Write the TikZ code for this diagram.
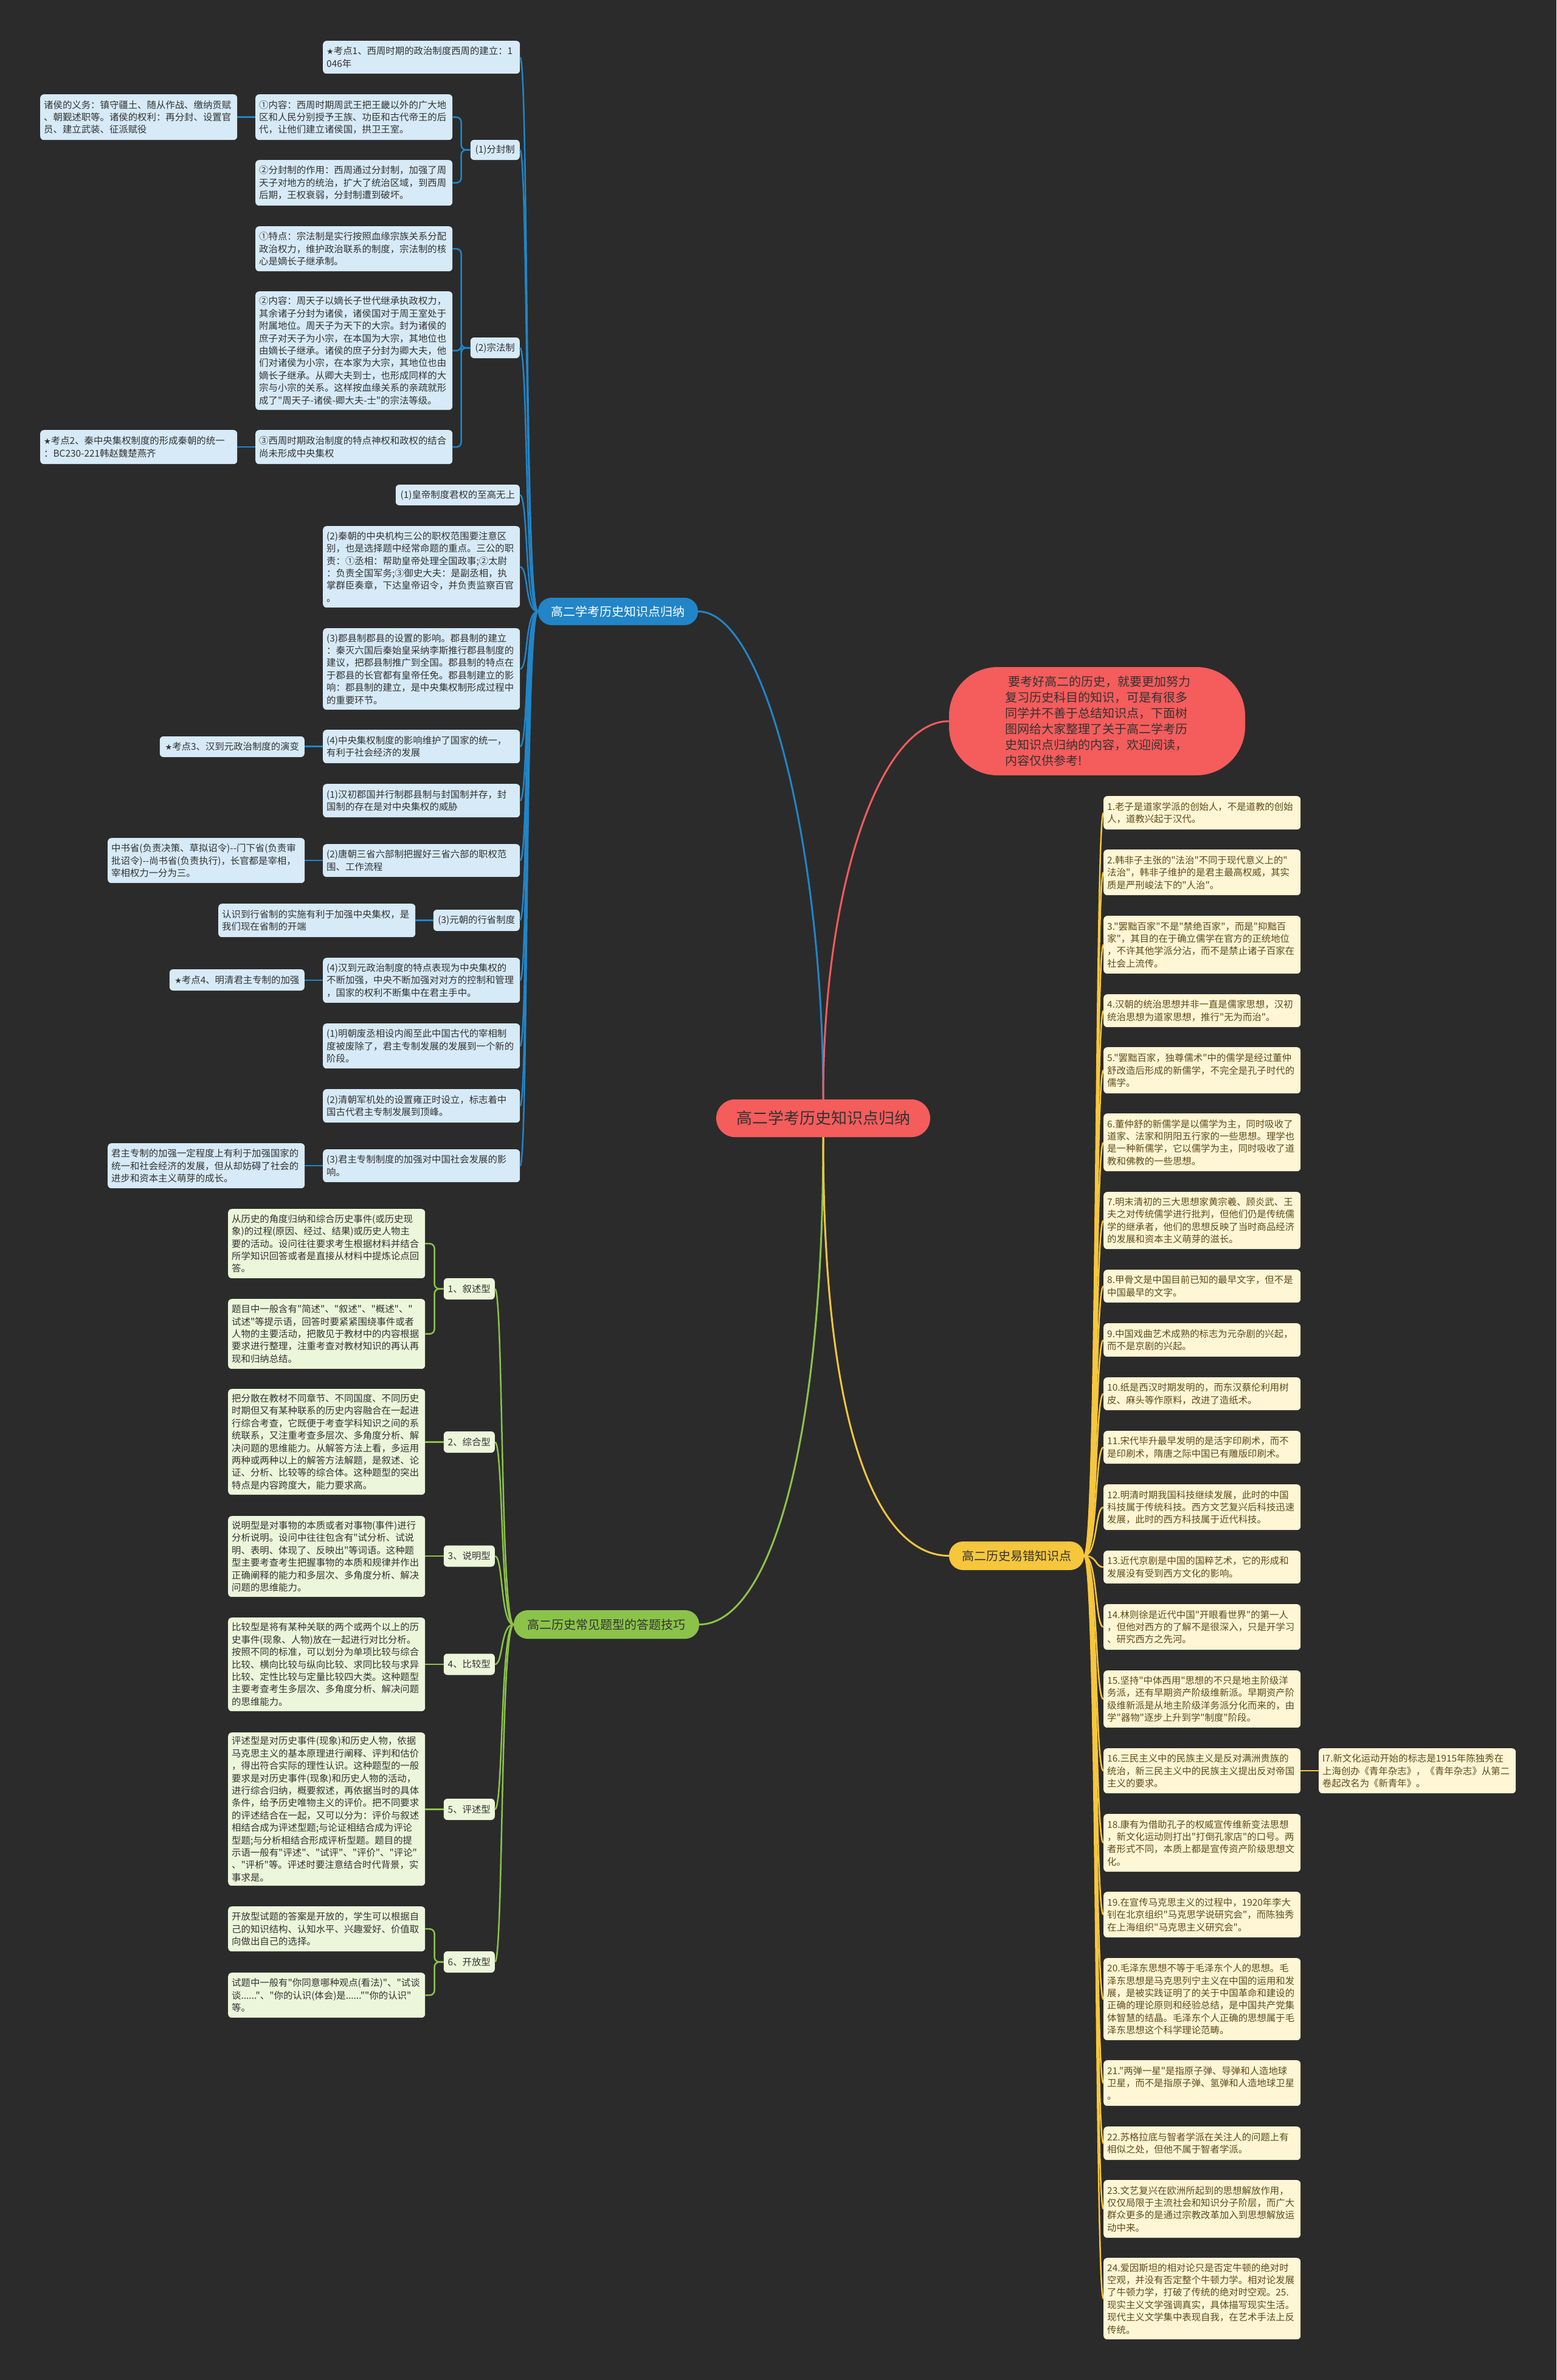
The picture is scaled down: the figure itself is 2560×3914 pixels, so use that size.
\documentclass[tikz,border=0pt]{standalone}
\usepackage{fontspec}
\setmainfont{Noto Sans CJK SC}[Ligatures=TeXOff]
\newfontfamily\symf{DejaVu Sans}[Scale=0.85]
\definecolor{bgc}{RGB}{43,43,43}
\definecolor{bluec}{RGB}{33,133,200}
\definecolor{bluel}{RGB}{214,234,247}
\definecolor{greenc}{RGB}{139,195,74}
\definecolor{greenl}{RGB}{236,246,218}
\definecolor{yelc}{RGB}{246,198,60}
\definecolor{yell}{RGB}{254,246,213}
\definecolor{redc}{RGB}{245,92,92}
\definecolor{txt}{RGB}{51,51,51}
\definecolor{ytxt}{RGB}{95,75,25}
\newcommand\fsz{\fontsize{15.4}{20.4}\selectfont}
\newcommand\xstar{{\symf ★}}
\begin{document}
\begin{tikzpicture}[x=1pt,y=-1pt,
  base/.style={rounded corners=6pt, inner xsep=6pt, inner ysep=4pt, font=\fsz, align=left},
  wbox/.style={base, anchor=north west, text width=312pt},
  lbox/.style={base, anchor=east, align=center},
  bwide/.style={wbox, fill=bluel, text=txt},
  blab/.style={lbox, fill=bluel, text=txt},
  gwide/.style={wbox, fill=greenl, text=txt},
  glab/.style={lbox, fill=greenl, text=txt, minimum width=84pt, minimum height=35pt},
  ywide/.style={wbox, fill=yell, text=ytxt},
  bcon/.style={draw=bluec, line width=2.5pt},
  gcon/.style={draw=greenc, line width=2.5pt},
  ycon/.style={draw=yelc, line width=2.5pt},
  mainnode/.style={inner sep=0pt, font=\fontsize{20}{26}\selectfont, text=txt}
]
\fill[bgc] (0,0) rectangle (2560,3914);
\useasboundingbox (0,0) rectangle (2560,3914);

% ---------- centre ----------
\node[mainnode, fill=redc, rounded corners=31pt, minimum width=352pt, minimum height=62pt,
      font=\fontsize{26}{30}\selectfont] (root) at (1354,1839) {高二学考历史知识点归纳};
\node[mainnode, fill=bluec, text=white, rounded corners=22pt, minimum width=263pt, minimum height=45pt] (bl) at (1016.5,1005.5) {高二学考历史知识点归纳};
\node[mainnode, fill=redc, rounded corners=80pt, minimum width=487pt, minimum height=178pt,
      text width=302pt, align=left] (rd) at (1804.5,1186)
  {\hspace*{5pt}要考好高二的历史，就要更加努力\\复习历史科目的知识，可是有很多\\同学并不善于总结知识点，下面树\\图网给大家整理了关于高二学考历\\史知识点归纳的内容，欢迎阅读，\\内容仅供参考!};
\node[mainnode, fill=greenc, rounded corners=23pt, minimum width=305pt, minimum height=47pt] (gr) at (997.5,2671.5) {高二历史常见题型的答题技巧};
\node[mainnode, fill=yelc, rounded corners=23pt, minimum width=222pt, minimum height=47pt] (ye) at (1672,2558.5) {高二历史易错知识点};

\draw[draw=bluec, line width=3pt] (root.north) .. controls (1354,1400) and (1260,1005.5) .. (bl.east);
\draw[draw=redc, line width=3pt] (root.north) .. controls (1354,1450) and (1450,1186) .. (rd.west);
\draw[draw=greenc, line width=3pt] (root.south) .. controls (1354,2400) and (1260,2671.5) .. (gr.east);
\draw[draw=yelc, line width=3pt] (root.south) .. controls (1354,2400) and (1460,2558.5) .. (ye.west);

% ---------- blue branch ----------
\node[bwide, minimum height=54pt] (k1) at (531,67) {\xstar 考点1、西周时期的政治制度西周的建立：1\\046年};
\node[bwide, minimum height=75pt] (zh) at (66,155) {诸侯的义务：镇守疆土、随从作战、缴纳贡赋\\、朝觐述职等。诸侯的权利：再分封、设置官\\员、建立武装、征派赋役};
\node[bwide, minimum height=75pt] (nr1) at (420,155) {①内容：西周时期周武王把王畿以外的广大地\\区和人民分别授予王族、功臣和古代帝王的后\\代，让他们建立诸侯国，拱卫王室。};
\node[blab, minimum width=81pt, minimum height=33pt] (ffz) at (855,246.5) {(1)分封制};
\node[bwide, minimum height=75pt] (zy) at (420,263) {②分封制的作用：西周通过分封制，加强了周\\天子对地方的统治，扩大了统治区域，到西周\\后期，王权衰弱，分封制遭到破坏。};
\node[bwide, minimum height=74pt] (td) at (420,372) {①特点：宗法制是实行按照血缘宗族关系分配\\政治权力，维护政治联系的制度，宗法制的核\\心是嫡长子继承制。};
\node[bwide, minimum height=195pt] (nr2) at (420,479) {②内容：周天子以嫡长子世代继承执政权力，\\其余诸子分封为诸侯，诸侯国对于周王室处于\\附属地位。周天子为天下的大宗。封为诸侯的\\庶子对天子为小宗，在本国为大宗，其地位也\\由嫡长子继承。诸侯的庶子分封为卿大夫，他\\们对诸侯为小宗，在本家为大宗，其地位也由\\嫡长子继承。从卿大夫到士，也形成同样的大\\宗与小宗的关系。这样按血缘关系的亲疏就形\\成了"周天子-诸侯-卿大夫-士"的宗法等级。};
\node[blab, minimum width=81pt, minimum height=34pt] (zfz) at (855,572) {(2)宗法制};
\node[bwide, minimum height=56pt] (k2) at (66,707) {\xstar 考点2、秦中央集权制度的形成秦朝的统一\\：BC230-221韩赵魏楚燕齐};
\node[bwide, minimum height=56pt] (xz) at (420,707) {③西周时期政治制度的特点神权和政权的结合\\尚未形成中央集权};
\node[blab, minimum width=204pt, minimum height=34pt] (hd) at (855,814) {(1)皇帝制度君权的至高无上};
\node[bwide, minimum height=134pt] (qc) at (531,865) {(2)秦朝的中央机构三公的职权范围要注意区\\别，也是选择题中经常命题的重点。三公的职\\责：①丞相：帮助皇帝处理全国政事;②太尉\\：负责全国军务;③御史大夫：是副丞相，执\\掌群臣奏章，下达皇帝诏令，并负责监察百官\\。};
\node[bwide, minimum height=134pt] (jx) at (531,1033) {(3)郡县制郡县的设置的影响。郡县制的建立\\：秦灭六国后秦始皇采纳李斯推行郡县制度的\\建议，把郡县制推广到全国。郡县制的特点在\\于郡县的长官都有皇帝任免。郡县制建立的影\\响：郡县制的建立，是中央集权制形成过程中\\的重要环节。};
\node[blab, minimum width=238pt, minimum height=34pt] (k3) at (501,1228) {\xstar 考点3、汉到元政治制度的演变};
\node[bwide, minimum height=55pt] (zy4) at (531,1200) {(4)中央集权制度的影响维护了国家的统一，\\有利于社会经济的发展};
\node[bwide, minimum height=55pt] (hc) at (531,1289) {(1)汉初郡国并行制郡县制与封国制并存，封\\国制的存在是对中央集权的威胁};
\node[bwide, minimum height=74pt] (zs) at (177,1378) {中书省(负责决策、草拟诏令)--门下省(负责审\\批诏令)--尚书省(负责执行)，长官都是宰相，\\宰相权力一分为三。};
\node[bwide, minimum height=54pt] (tc) at (531,1388) {(2)唐朝三省六部制把握好三省六部的职权范\\围、工作流程};
\node[bwide, minimum height=55pt] (rs) at (359,1486) {认识到行省制的实施有利于加强中央集权，是\\我们现在省制的开端};
\node[blab, minimum width=142pt, minimum height=35pt] (yc) at (855,1513.5) {(3)元朝的行省制度};
\node[blab, minimum width=222pt, minimum height=35pt] (k4) at (501,1611.5) {\xstar 考点4、明清君主专制的加强};
\node[bwide, minimum height=74pt] (hy) at (531,1575) {(4)汉到元政治制度的特点表现为中央集权的\\不断加强，中央不断加强对对方的控制和管理\\，国家的权利不断集中在君主手中。};
\node[bwide, minimum height=74pt] (mc) at (531,1683) {(1)明朝废丞相设内阁至此中国古代的宰相制\\度被废除了，君主专制发展的发展到一个新的\\阶段。};
\node[bwide, minimum height=55pt] (qcb) at (531,1791) {(2)清朝军机处的设置雍正时设立，标志着中\\国古代君主专制发展到顶峰。};
\node[bwide, minimum height=74pt] (jz) at (177,1880) {君主专制的加强一定程度上有利于加强国家的\\统一和社会经济的发展，但从却妨碍了社会的\\进步和资本主义萌芽的成长。};
\node[bwide, minimum height=54pt] (jzzd) at (531,1890) {(3)君主专制制度的加强对中国社会发展的影\\响。};

\foreach \c in {k1,ffz,zfz,hd,qc,jx,zy4,hc,tc,yc,hy,mc,qcb,jzzd}
  \draw[bcon] (bl.west) .. controls +(-22,0) and +(14,0) .. (\c.east);
\draw[bcon, rounded corners=8pt] (ffz.west) -- ++(-15,0) |- (nr1.east);
\draw[bcon, rounded corners=8pt] (ffz.west) -- ++(-15,0) |- (zy.east);
\draw[bcon, rounded corners=8pt] (zfz.west) -- ++(-15,0) |- (td.east);
\draw[bcon, rounded corners=8pt] (zfz.west) -- ++(-15,0) |- (nr2.east);
\draw[bcon, rounded corners=8pt] (zfz.west) -- ++(-15,0) |- (xz.east);
\draw[bcon] (nr1.west) -- (zh.east |- nr1.west);
\draw[bcon] (xz.west) -- (k2.east |- xz.west);
\draw[bcon] (zy4.west) -- (k3.east |- zy4.west);
\draw[bcon] (tc.west) -- (zs.east |- tc.west);
\draw[bcon] (yc.west) -- (rs.east |- yc.west);
\draw[bcon] (hy.west) -- (k4.east |- hy.west);
\draw[bcon] (jzzd.west) -- (jz.east |- jzzd.west);

% ---------- green branch ----------
\node[gwide, minimum height=114pt] (g1a) at (375,1988) {从历史的角度归纳和综合历史事件(或历史现\\象)的过程(原因、经过、结果)或历史人物主\\要的活动。设问往往要求考生根据材料并结合\\所学知识回答或者是直接从材料中提炼论点回\\答。};
\node[gwide, minimum height=115pt] (g1b) at (375,2136) {题目中一般含有"简述"、"叙述"、"概述"、"\\试述"等提示语，回答时要紧紧围绕事件或者\\人物的主要活动，把散见于教材中的内容根据\\要求进行整理，注重考查对教材知识的再认再\\现和归纳总结。};
\node[glab] (n1) at (814,2119.5) {1、叙述型};
\node[gwide, minimum height=174pt] (g2) at (375,2284) {把分散在教材不同章节、不同国度、不同历史\\时期但又有某种联系的历史内容融合在一起进\\行综合考查，它既便于考查学科知识之间的系\\统联系，又注重考查多层次、多角度分析、解\\决问题的思维能力。从解答方法上看，多运用\\两种或两种以上的解答方法解题，是叙述、论\\证、分析、比较等的综合体。这种题型的突出\\特点是内容跨度大，能力要求高。};
\node[glab] (n2) at (814,2371.5) {2、综合型};
\node[gwide, minimum height=133pt] (g3) at (375,2493) {说明型是对事物的本质或者对事物(事件)进行\\分析说明。设问中往往包含有"试分析、试说\\明、表明、体现了、反映出"等词语。这种题\\型主要考查考生把握事物的本质和规律并作出\\正确阐释的能力和多层次、多角度分析、解决\\问题的思维能力。};
\node[glab] (n3) at (814,2559) {3、说明型};
\node[gwide, minimum height=154pt] (g4) at (375,2660) {比较型是将有某种关联的两个或两个以上的历\\史事件(现象、人物)放在一起进行对比分析。\\按照不同的标准，可以划分为单项比较与综合\\比较、横向比较与纵向比较、求同比较与求异\\比较、定性比较与定量比较四大类。这种题型\\主要考查考生多层次、多角度分析、解决问题\\的思维能力。};
\node[glab] (n4) at (814,2737) {4、比较型};
\node[gwide, minimum height=252pt] (g5) at (375,2849) {评述型是对历史事件(现象)和历史人物，依据\\马克思主义的基本原理进行阐释、评判和估价\\，得出符合实际的理性认识。这种题型的一般\\要求是对历史事件(现象)和历史人物的活动，\\进行综合归纳，概要叙述，再依据当时的具体\\条件，给予历史唯物主义的评价。把不同要求\\的评述结合在一起，又可以分为：评价与叙述\\相结合成为评述型题;与论证相结合成为评论\\型题;与分析相结合形成评析型题。题目的提\\示语一般有"评述"、"试评"、"评价"、"评论"\\、"评析"等。评述时要注意结合时代背景，实\\事求是。};
\node[glab] (n5) at (814,2975.5) {5、评述型};
\node[gwide, minimum height=74pt] (g6a) at (375,3135) {开放型试题的答案是开放的，学生可以根据自\\己的知识结构、认知水平、兴趣爱好、价值取\\向做出自己的选择。};
\node[gwide, minimum height=74pt] (g6b) at (375,3244) {试题中一般有"你同意哪种观点(看法)"、"试谈\\谈......"、"你的认识(体会)是......""你的认识"\\等。};
\node[glab] (n6) at (814,3226.5) {6、开放型};

\foreach \c in {n1,n2,n3,n4,n5,n6}
  \draw[gcon] (gr.west) .. controls +(-22,0) and +(14,0) .. (\c.east);
\draw[gcon, rounded corners=8pt] (n1.west) -- ++(-15,0) |- (g1a.east);
\draw[gcon, rounded corners=8pt] (n1.west) -- ++(-15,0) |- (g1b.east);
\draw[gcon, rounded corners=8pt] (n6.west) -- ++(-15,0) |- (g6a.east);
\draw[gcon, rounded corners=8pt] (n6.west) -- ++(-15,0) |- (g6b.east);
\draw[gcon] (n2.west) -- (g2.east |- n2.west);
\draw[gcon] (n3.west) -- (g3.east |- n3.west);
\draw[gcon] (n4.west) -- (g4.east |- n4.west);
\draw[gcon] (n5.west) -- (g5.east |- n5.west);

% ---------- yellow branch ----------
\node[ywide, minimum height=55pt] (y1) at (1815,1309) {1.老子是道家学派的创始人，不是道教的创始\\人，道教兴起于汉代。};
\node[ywide, minimum height=75pt] (y2) at (1815,1397) {2.韩非子主张的"法治"不同于现代意义上的"\\法治"，韩非子维护的是君主最高权威，其实\\质是严刑峻法下的"人治"。};
\node[ywide, minimum height=95pt] (y3) at (1815,1506) {3."罢黜百家"不是"禁绝百家"，而是"抑黜百\\家"，其目的在于确立儒学在官方的正统地位\\，不许其他学派分沾，而不是禁止诸子百家在\\社会上流传。};
\node[ywide, minimum height=54pt] (y4) at (1815,1635) {4.汉朝的统治思想并非一直是儒家思想，汉初\\统治思想为道家思想，推行"无为而治"。};
\node[ywide, minimum height=76pt] (y5) at (1815,1722) {5."罢黜百家，独尊儒术"中的儒学是经过董仲\\舒改造后形成的新儒学，不完全是孔子时代的\\儒学。};
\node[ywide, minimum height=95pt] (y6) at (1815,1831) {6.董仲舒的新儒学是以儒学为主，同时吸收了\\道家、法家和阴阳五行家的一些思想。理学也\\是一种新儒学，它以儒学为主，同时吸收了道\\教和佛教的一些思想。};
\node[ywide, minimum height=94pt] (y7) at (1815,1960) {7.明末清初的三大思想家黄宗羲、顾炎武、王\\夫之对传统儒学进行批判，但他们仍是传统儒\\学的继承者，他们的思想反映了当时商品经济\\的发展和资本主义萌芽的滋长。};
\node[ywide, minimum height=54pt] (y8) at (1815,2088) {8.甲骨文是中国目前已知的最早文字，但不是\\中国最早的文字。};
\node[ywide, minimum height=55pt] (y9) at (1815,2176) {9.中国戏曲艺术成熟的标志为元杂剧的兴起，\\而不是京剧的兴起。};
\node[ywide, minimum height=54pt] (y10) at (1815,2265) {10.纸是西汉时期发明的，而东汉蔡伦利用树\\皮、麻头等作原料，改进了造纸术。};
\node[ywide, minimum height=54pt] (y11) at (1815,2353) {11.宋代毕升最早发明的是活字印刷术，而不\\是印刷术，隋唐之际中国已有雕版印刷术。};
\node[ywide, minimum height=75pt] (y12) at (1815,2441) {12.明清时期我国科技继续发展，此时的中国\\科技属于传统科技。西方文艺复兴后科技迅速\\发展，此时的西方科技属于近代科技。};
\node[ywide, minimum height=54pt] (y13) at (1815,2550) {13.近代京剧是中国的国粹艺术，它的形成和\\发展没有受到西方文化的影响。};
\node[ywide, minimum height=75pt] (y14) at (1815,2638) {14.林则徐是近代中国"开眼看世界"的第一人\\，但他对西方的了解不是很深入，只是开学习\\、研究西方之先河。};
\node[ywide, minimum height=94pt] (y15) at (1815,2747) {15.坚持"中体西用"思想的不只是地主阶级洋\\务派，还有早期资产阶级维新派。早期资产阶\\级维新派是从地主阶级洋务派分化而来的，由\\学"器物"逐步上升到学"制度"阶段。};
\node[ywide, minimum height=74pt] (y16) at (1815,2875) {16.三民主义中的民族主义是反对满洲贵族的\\统治，新三民主义中的民族主义提出反对帝国\\主义的要求。};
\node[ywide, minimum height=74pt] (y17) at (2169,2875) {I7.新文化运动开始的标志是1915年陈独秀在\\上海创办《青年杂志》，《青年杂志》从第二\\卷起改名为《新青年》。};
\node[ywide, minimum height=95pt] (y18) at (1815,2983) {18.康有为借助孔子的权威宣传维新变法思想\\，新文化运动则打出"打倒孔家店"的口号。两\\者形式不同，本质上都是宣传资产阶级思想文\\化。};
\node[ywide, minimum height=75pt] (y19) at (1815,3111) {19.在宣传马克思主义的过程中，1920年李大\\钊在北京组织"马克思学说研究会"，而陈独秀\\在上海组织"马克思主义研究会"。};
\node[ywide, minimum height=135pt] (y20) at (1815,3220) {20.毛泽东思想不等于毛泽东个人的思想。毛\\泽东思想是马克思列宁主义在中国的运用和发\\展，是被实践证明了的关于中国革命和建设的\\正确的理论原则和经验总结，是中国共产党集\\体智慧的结晶。毛泽东个人正确的思想属于毛\\泽东思想这个科学理论范畴。};
\node[ywide, minimum height=75pt] (y21) at (1815,3388) {21."两弹一星"是指原子弹、导弹和人造地球\\卫星，而不是指原子弹、氢弹和人造地球卫星\\。};
\node[ywide, minimum height=55pt] (y22) at (1815,3497) {22.苏格拉底与智者学派在关注人的问题上有\\相似之处，但他不属于智者学派。};
\node[ywide, minimum height=95pt] (y23) at (1815,3585) {23.文艺复兴在欧洲所起到的思想解放作用，\\仅仅局限于主流社会和知识分子阶层，而广大\\群众更多的是通过宗教改革加入到思想解放运\\动中来。};
\node[ywide, minimum height=134pt] (y24) at (1815,3713) {24.爱因斯坦的相对论只是否定牛顿的绝对时\\空观，并没有否定整个牛顿力学。相对论发展\\了牛顿力学，打破了传统的绝对时空观。25.\\现实主义文学强调真实，具体描写现实生活。\\现代主义文学集中表现自我，在艺术手法上反\\传统。};

\foreach \c in {y1,y2,y3,y4,y5,y6,y7,y8,y9,y10,y11,y12,y13,y14,y15,y16,y18,y19,y20,y21,y22,y23,y24}
  \draw[ycon] (ye.east) .. controls +(22,0) and +(-14,0) .. (\c.west);
\draw[ycon] (y16.east) -- (y17.west);
\end{tikzpicture}
\end{document}
